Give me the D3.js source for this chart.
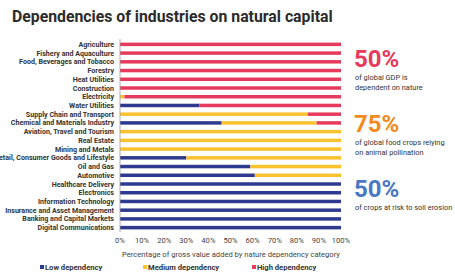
<!DOCTYPE html>
<html lang="en">
<head>
<meta charset="utf-8">
<script src="https://cdn.jsdelivr.net/npm/d3@7"></script>
<style>
  body { margin: 0; background: #fff; }
  text { font-family: Roboto, "Liberation Sans", sans-serif; }
</style>
</head>
<body>
<script>
const categories = ["Agriculture", "Fishery and Aquaculture", "Food, Beverages and Tobacco", "Forestry",
  "Heat Utilities", "Construction", "Electricity", "Water Utilities", "Supply Chain and Transport",
  "Chemical and Materials Industry", "Aviation, Travel and Tourism", "Real Estate", "Mining and Metals",
  "Retail, Consumer Goods and Lifestyle", "Oil and Gas", "Automotive", "Healthcare Delivery", "Electronics",
  "Information Technology", "Insurance and Asset Management", "Banking and Capital Markets", "Digital Communications"];
const low    = [0, 0, 0, 0, 0, 0, 0, 36, 0, 46, 0, 0, 0, 30, 59, 61, 100, 100, 100, 100, 100, 100];
const medium = [0, 0, 0, 0, 0, 0, 2, 0, 85, 43, 100, 100, 100, 70, 41, 39, 0, 0, 0, 0, 0, 0];
const high   = [100, 100, 100, 100, 100, 100, 98, 64, 15, 11, 0, 0, 0, 0, 0, 0, 0, 0, 0, 0, 0, 0];
const seriesNames = ["Low dependency", "Medium dependency", "High dependency"];
const colors = ["#2e3a8f", "#fbc22f", "#e63b5c"];
const ticks = [0, 10, 20, 30, 40, 50, 60, 70, 80, 90, 100];

const w = 455, h = 273;
const svg = d3.select("body").append("svg").attr("width", w).attr("height", h);

svg.append("text")
  .attr("x", 12).attr("y", 22)
  .attr("font-family", "Inter, 'Open Sans', sans-serif")
  .attr("font-weight", 700).attr("font-size", 15.8).attr("fill", "#2b2b2b")
  .text("Dependencies of industries on natural capital");

const x = d3.scaleLinear().domain([0, 100]).range([120, 341]);
const y = d3.scaleBand().domain(categories).range([40, 232]).paddingInner(0.6).paddingOuter(0.3);

const rows = categories.map((c, i) => {
  let x0 = 0;
  return [low[i], medium[i], high[i]].map((v, k) => {
    const seg = { cat: c, k: k, x0: x0, x1: x0 + v };
    x0 += v;
    return seg;
  }).filter(s => s.x1 > s.x0);
}).flat();

svg.selectAll("rect.bar")
  .data(rows)
  .join("rect")
  .attr("class", "bar")
  .attr("x", d => x(d.x0))
  .attr("y", d => y(d.cat))
  .attr("width", d => x(d.x1) - x(d.x0))
  .attr("height", y.bandwidth())
  .attr("fill", d => colors[d.k]);

// category labels
svg.selectAll("text.cat")
  .data(categories)
  .join("text")
  .attr("class", "cat")
  .attr("x", 114)
  .attr("y", d => y(d) + y.bandwidth() / 2 + 2.5)
  .attr("text-anchor", "end")
  .attr("font-size", 7.1).attr("font-weight", 700).attr("fill", "#333")
  .text(d => d);

// axis line
svg.append("line")
  .attr("x1", 120).attr("x2", 120).attr("y1", 39).attr("y2", 232)
  .attr("stroke", "#999").attr("stroke-width", 0.8);

svg.selectAll("text.tick")
  .data(ticks)
  .join("text")
  .attr("class", "tick")
  .attr("x", d => x(d))
  .attr("y", 243)
  .attr("text-anchor", "middle")
  .attr("font-size", 7.6).attr("fill", "#444")
  .text(d => d + "%");

svg.append("text")
  .attr("x", 231).attr("y", 257)
  .attr("text-anchor", "middle")
  .attr("font-size", 7.6).attr("fill", "#444")
  .text("Percentage of gross value added by nature dependency category");

// legend
const legendX = [40, 143, 252];
const lg = svg.selectAll("g.leg").data(seriesNames).join("g").attr("class", "leg")
  .attr("transform", (d, i) => `translate(${legendX[i]},270)`);
lg.append("rect").attr("x", 0).attr("y", -5).attr("width", 4).attr("height", 4)
  .attr("fill", (d, i) => colors[i]);
lg.append("text").attr("x", 5).attr("y", 0)
  .attr("font-size", 7.6).attr("font-weight", 700).attr("fill", "#333")
  .text(d => d);

// side facts
const bigNums = ["50%", "75%", "50%"];
const bigColors = ["#e63b5c", "#f28a22", "#4a78c4"];
const bigY = [67, 132, 197];
const notes = [["of global GDP is", "dependent on nature"],
  ["of global food crops relying", "on animal pollination"],
  ["of crops at risk to soil erosion"]];

bigNums.forEach((t, i) => {
  svg.append("text")
    .attr("x", 354).attr("y", bigY[i])
    .attr("font-family", "'DejaVu Sans', sans-serif")
    .attr("font-size", 24).attr("font-weight", 700).attr("fill", bigColors[i])
    .text(t);
  notes[i].forEach((n, j) => {
    svg.append("text")
      .attr("x", 355).attr("y", bigY[i] + 13 + j * 10)
      .attr("font-size", 7.4).attr("fill", "#333")
      .text(n);
  });
});
</script>
</body>
</html>
